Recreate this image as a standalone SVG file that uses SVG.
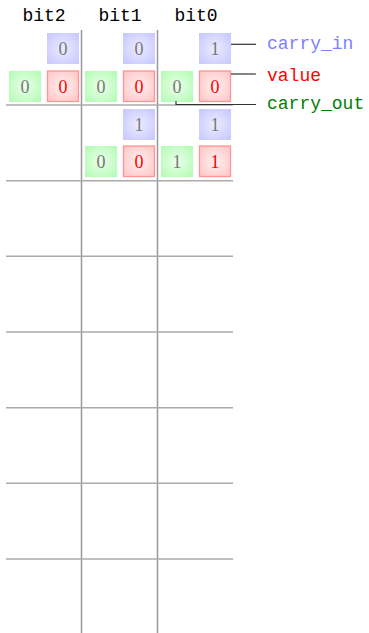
<svg xmlns="http://www.w3.org/2000/svg" width="369" height="633" viewBox="0 0 369 633">
<defs>
<radialGradient id="gb" cx="50%" cy="50%" r="70%"><stop offset="0" stop-color="#ececff"/><stop offset="1" stop-color="#c6c6ff"/></radialGradient>
<radialGradient id="gg" cx="50%" cy="50%" r="70%"><stop offset="0" stop-color="#ecffec"/><stop offset="1" stop-color="#b0fbb0"/></radialGradient>
<radialGradient id="gr" cx="50%" cy="50%" r="70%"><stop offset="0" stop-color="#fff0f0"/><stop offset="1" stop-color="#ffc4c4"/></radialGradient>
</defs>
<style>
.hd{font-family:"Liberation Mono","DejaVu Sans Mono",monospace;font-size:18px;fill:#000;text-anchor:middle}
.lb{font-family:"Liberation Mono","DejaVu Sans Mono",monospace;font-size:18px}
.d{font-family:"Liberation Serif","DejaVu Serif",serif;font-size:18px;text-anchor:middle;fill:#777}
.dr{fill:#ff0000}
.bb{fill:url(#gb)}
.bg{fill:url(#gg)}
.br{fill:url(#gr);stroke:#ff9494;stroke-width:1.3}
.vg{stroke:#999;stroke-width:1.5}
.hg{stroke:#aaa;stroke-width:1.6}
.cn{stroke:#333;stroke-width:1.2;fill:none}
</style>
<g id="headers">
<text class="hd" x="44" y="21">bit2</text>
<text class="hd" x="120" y="21">bit1</text>
<text class="hd" x="196" y="21">bit0</text>
</g>
<g id="grid">
<line class="vg" x1="81.5" y1="30" x2="81.5" y2="633"/>
<line class="vg" x1="157.5" y1="30" x2="157.5" y2="633"/>
<line class="hg" x1="6" y1="105" x2="233" y2="105"/>
<line class="hg" x1="6" y1="180.7" x2="233" y2="180.7"/>
<line class="hg" x1="6" y1="256.3" x2="233" y2="256.3"/>
<line class="hg" x1="6" y1="332" x2="233" y2="332"/>
<line class="hg" x1="6" y1="407.7" x2="233" y2="407.7"/>
<line class="hg" x1="6" y1="483.3" x2="233" y2="483.3"/>
<line class="hg" x1="6" y1="559" x2="233" y2="559"/>
</g>
<g id="row1">
<g id="r1-b2-cin"><rect class="bb" x="47" y="33" width="32" height="31"/><text class="d" x="63" y="55">0</text></g>
<g id="r1-b1-cin"><rect class="bb" x="123" y="33" width="32" height="31"/><text class="d" x="139" y="55">0</text></g>
<g id="r1-b0-cin"><rect class="bb" x="199" y="33" width="32" height="31"/><text class="d" x="215" y="55">1</text></g>
<g id="r1-b2-cout"><rect class="bg" x="9" y="71" width="32" height="31"/><text class="d" x="25" y="93">0</text></g>
<g id="r1-b2-val"><rect class="br" x="47.5" y="71" width="31" height="30.5"/><text class="d dr" x="63" y="93">0</text></g>
<g id="r1-b1-cout"><rect class="bg" x="85" y="71" width="32" height="31"/><text class="d" x="101" y="93">0</text></g>
<g id="r1-b1-val"><rect class="br" x="123.5" y="71" width="31" height="30.5"/><text class="d dr" x="139" y="93">0</text></g>
<g id="r1-b0-cout"><rect class="bg" x="161" y="71" width="32" height="31"/><text class="d" x="177" y="93">0</text></g>
<g id="r1-b0-val"><rect class="br" x="199.5" y="71" width="31" height="30.5"/><text class="d dr" x="215" y="93">0</text></g>
</g>
<g id="row2">
<g id="r2-b1-cin"><rect class="bb" x="123" y="109" width="32" height="31"/><text class="d" x="139" y="131">1</text></g>
<g id="r2-b0-cin"><rect class="bb" x="199" y="109" width="32" height="31"/><text class="d" x="215" y="131">1</text></g>
<g id="r2-b1-cout"><rect class="bg" x="85" y="146" width="32" height="31"/><text class="d" x="101" y="168">0</text></g>
<g id="r2-b1-val"><rect class="br" x="123.5" y="146" width="31" height="30.5"/><text class="d dr" x="139" y="168">0</text></g>
<g id="r2-b0-cout"><rect class="bg" x="161" y="146" width="32" height="31"/><text class="d" x="177" y="168">1</text></g>
<g id="r2-b0-val"><rect class="br" x="199.5" y="146" width="31" height="30.5"/><text class="d dr" x="215" y="168">1</text></g>
</g>
<g id="connectors">
<line class="cn" x1="231" y1="44.3" x2="256" y2="44.3"/>
<line class="cn" x1="231" y1="74" x2="256" y2="74"/>
<polyline class="cn" points="176,101 176,104.5 256,104.5"/>
</g>
<g id="labels">
<text class="lb" x="267" y="48.5" fill="#8080ff">carry_in</text>
<text class="lb" x="267" y="81" fill="#ff0000">value</text>
<text class="lb" x="267" y="108.5" fill="#008000">carry_out</text>
</g>
</svg>
